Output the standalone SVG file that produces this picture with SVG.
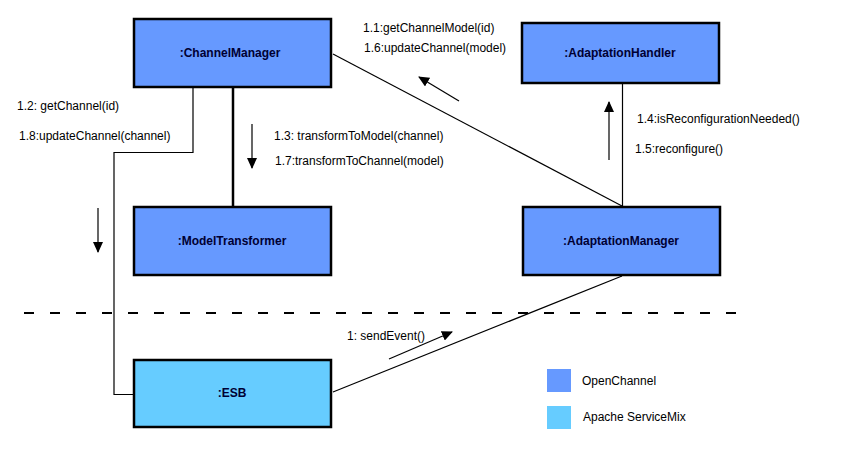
<svg xmlns="http://www.w3.org/2000/svg" width="847" height="453" viewBox="0 0 847 453">
<defs>
<style>
.node{fill:#6699ff;stroke:#000;stroke-width:2.5}
.esb{fill:#66ccff;stroke:#000;stroke-width:2.5}
.nl{font-family:"Liberation Sans",Arial,sans-serif;font-size:12px;font-weight:bold;fill:#000033;text-anchor:middle}
.lbl{font-family:"Liberation Sans",Arial,sans-serif;font-size:12px;fill:#000}
.con{fill:none;stroke:#000;stroke-width:1.2}
.thick{fill:none;stroke:#000;stroke-width:2.5}
.arr{fill:none;stroke:#000;stroke-width:1.2;marker-end:url(#ah)}
</style>
<marker id="ah" markerUnits="userSpaceOnUse" markerWidth="11" markerHeight="10" refX="10" refY="5" orient="auto">
<path d="M0,0 L11,5 L0,10 z" fill="#000"/>
</marker>
</defs>
<rect width="847" height="453" fill="#fff"/>
<g id="connectors">
<line class="thick" x1="233" y1="88" x2="233" y2="206"/>
<polyline class="con" points="193,88 193,152.5 114,152.5 114,394.5 133,394.5"/>
<line class="con" x1="333" y1="54" x2="622" y2="206"/>
<line class="con" x1="622.5" y1="84" x2="622.5" y2="206"/>
<line class="con" x1="622" y1="276" x2="333" y2="392"/>
<line x1="24" y1="313" x2="740" y2="313" stroke="#000" stroke-width="2.2" stroke-dasharray="10,16"/>
<line class="arr" x1="252" y1="124" x2="252" y2="168"/>
<line class="arr" x1="98" y1="208" x2="98" y2="252"/>
<line class="arr" x1="609" y1="160" x2="609" y2="102"/>
<line class="arr" x1="459" y1="101" x2="419" y2="77"/>
<line class="arr" x1="389" y1="359" x2="452" y2="332"/>
</g>
<g id="ChannelManager"><rect class="node" x="134" y="19" width="197" height="68"/><text class="nl" x="230" y="57">:ChannelManager</text></g>
<g id="ModelTransformer"><rect class="node" x="134" y="207" width="197" height="68"/><text class="nl" x="232" y="245">:ModelTransformer</text></g>
<g id="AdaptationHandler"><rect class="node" x="522" y="23" width="197" height="60"/><text class="nl" x="620" y="57">:AdaptationHandler</text></g>
<g id="AdaptationManager"><rect class="node" x="523" y="207" width="197" height="68"/><text class="nl" x="621" y="245">:AdaptationManager</text></g>
<g id="ESB"><rect class="esb" x="134" y="360" width="197" height="67"/><text class="nl" x="232" y="397">:ESB</text></g>
<g id="labels">
<text class="lbl" x="363" y="32">1.1:getChannelModel(id)</text>
<text class="lbl" x="364" y="52">1.6:updateChannel(model)</text>
<text class="lbl" x="17" y="110">1.2: getChannel(id)</text>
<text class="lbl" x="19" y="140">1.8:updateChannel(channel)</text>
<text class="lbl" x="274" y="140">1.3: transformToModel(channel)</text>
<text class="lbl" x="275" y="165">1.7:transformToChannel(model)</text>
<text class="lbl" x="637" y="123">1.4:isReconfigurationNeeded()</text>
<text class="lbl" x="635" y="153">1.5:reconfigure()</text>
<text class="lbl" x="347" y="340">1: sendEvent()</text>
</g>
<g id="legend">
<rect x="547" y="369" width="24" height="23" fill="#6699ff"/>
<text class="lbl" x="582" y="385">OpenChannel</text>
<rect x="547" y="406" width="24" height="23" fill="#66ccff"/>
<text class="lbl" x="583" y="421">Apache ServiceMix</text>
</g>
</svg>
